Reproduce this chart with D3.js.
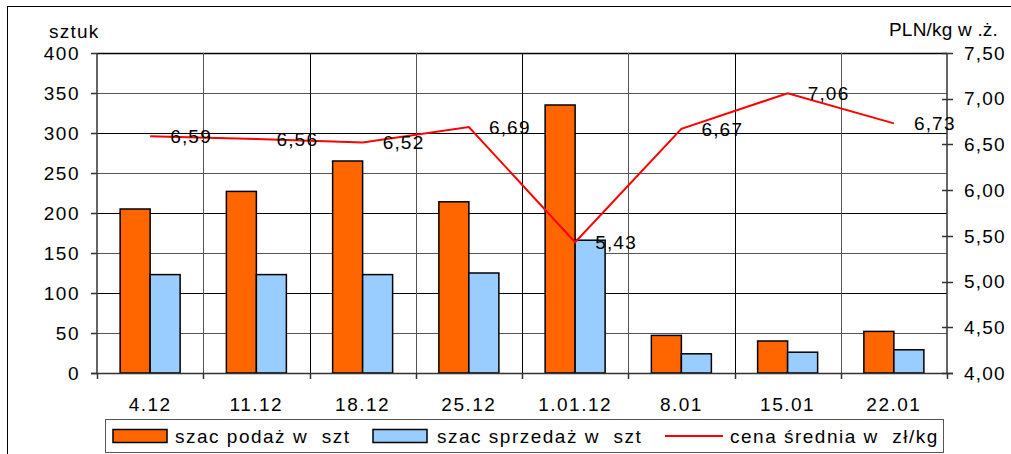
<!DOCTYPE html>
<html>
<head>
<meta charset="utf-8">
<script src="https://cdn.jsdelivr.net/npm/d3@7"></script>
<style>
  body { margin: 0; background: #fff; }
  svg { display: block; font-family: "Liberation Sans", Arial, sans-serif; }
  text { fill: #000; }
</style>
</head>
<body>
<div id="chart"></div>
<script>
const categories = ["4.12", "11.12", "18.12", "25.12", "1.01.12", "8.01", "15.01", "22.01"];
const supply = [205, 227, 265, 214, 335, 47, 40, 52];
const sales = [123, 123, 123, 125, 166, 24, 26, 29];
const price = [6.59, 6.56, 6.52, 6.69, 5.43, 6.67, 7.06, 6.73];
const leftTicks = [0, 50, 100, 150, 200, 250, 300, 350, 400];
const rightTicks = [4.0, 4.5, 5.0, 5.5, 6.0, 6.5, 7.0, 7.5];
const seriesNames = ["szac podaż w  szt", "szac sprzedaż w  szt", "cena średnia w  zł/kg"];

const W = 1011, H = 454;
const plot = { left: 97, top: 53, right: 947, bottom: 373 };
const orange = "#ff6600", blue = "#99ccff", red = "#ff0000";
const fs = 19;
const fmt = (v) => v.toFixed(2).replace(".", ",");

const svg = d3.select("#chart").append("svg").attr("width", W).attr("height", H);

// outer frame
svg.append("rect")
  .attr("x", 7.5).attr("y", 6.5).attr("width", 1020).attr("height", 470)
  .attr("fill", "none").attr("stroke", "#000").attr("stroke-width", 1);

const x = d3.scaleBand().domain(categories).range([plot.left, plot.right]).padding(0);
const yL = d3.scaleLinear().domain([0, 400]).range([plot.bottom, plot.top]);
const yR = d3.scaleLinear().domain([4, 7.5]).range([plot.bottom, plot.top]);

// horizontal grid
svg.append("g")
  .selectAll("line")
  .data(leftTicks.slice(1))
  .join("line")
  .attr("x1", plot.left).attr("x2", plot.right)
  .attr("y1", (d) => Math.round(yL(d)) + 0.5).attr("y2", (d) => Math.round(yL(d)) + 0.5)
  .attr("stroke", (d, i) => (i % 2 ? "#000" : "#555"))
  .attr("stroke-width", (d) => (d === 400 ? 1.5 : 1));

// vertical grid at category boundaries
const bounds = categories.map((c) => x(c)).slice(1);
svg.append("g")
  .selectAll("line")
  .data(bounds)
  .join("line")
  .attr("x1", (d) => Math.round(d) + 0.5).attr("x2", (d) => Math.round(d) + 0.5)
  .attr("y1", plot.top).attr("y2", plot.bottom)
  .attr("stroke", (d, i) => (i % 2 ? "#000" : "#555"));

// bars
const bw = 30;
const cx = (c) => x(c) + x.bandwidth() / 2;

svg.append("g")
  .selectAll("rect")
  .data(categories)
  .join("rect")
  .attr("x", (c) => cx(c) - bw)
  .attr("y", (c, i) => yL(supply[i]))
  .attr("width", bw)
  .attr("height", (c, i) => plot.bottom - yL(supply[i]))
  .attr("fill", orange).attr("stroke", "#000").attr("stroke-width", 1.5);

svg.append("g")
  .selectAll("rect")
  .data(categories)
  .join("rect")
  .attr("x", (c) => cx(c))
  .attr("y", (c, i) => yL(sales[i]))
  .attr("width", bw)
  .attr("height", (c, i) => plot.bottom - yL(sales[i]))
  .attr("fill", blue).attr("stroke", "#000").attr("stroke-width", 1.5);

// axes lines
svg.append("line")
  .attr("x1", plot.left).attr("x2", plot.left).attr("y1", plot.top).attr("y2", plot.bottom)
  .attr("stroke", "#333").attr("stroke-width", 1.5);
svg.append("line")
  .attr("x1", plot.right).attr("x2", plot.right).attr("y1", plot.top).attr("y2", plot.bottom)
  .attr("stroke", "#333").attr("stroke-width", 1.5);
svg.append("line")
  .attr("x1", plot.left - 6).attr("x2", plot.right + 6).attr("y1", plot.bottom + 0.5).attr("y2", plot.bottom + 0.5)
  .attr("stroke", "#333").attr("stroke-width", 1.5);

// left axis ticks + labels
const gl = svg.append("g");
gl.selectAll("line")
  .data(leftTicks)
  .join("line")
  .attr("x1", plot.left - 6).attr("x2", plot.left)
  .attr("y1", (d) => Math.round(yL(d)) + 0.5).attr("y2", (d) => Math.round(yL(d)) + 0.5)
  .attr("stroke", "#333").attr("stroke-width", 1.5);
gl.selectAll("text")
  .data(leftTicks)
  .join("text")
  .attr("x", 80).attr("y", (d) => yL(d))
  .attr("dy", "0.35em")
  .attr("text-anchor", "end")
  .attr("font-size", fs).attr("letter-spacing", 1.5)
  .text((d) => d);

// right axis ticks + labels
const gr = svg.append("g");
gr.selectAll("line")
  .data(rightTicks)
  .join("line")
  .attr("x1", plot.right - 5).attr("x2", plot.right + 6)
  .attr("y1", (d) => Math.round(yR(d)) + 0.5).attr("y2", (d) => Math.round(yR(d)) + 0.5)
  .attr("stroke", "#333").attr("stroke-width", 1.5);
gr.selectAll("text")
  .data(rightTicks)
  .join("text")
  .attr("x", 964).attr("y", (d) => yR(d))
  .attr("dy", "0.35em")
  .attr("font-size", fs).attr("letter-spacing", 1.2)
  .text((d) => fmt(d));

// x ticks at boundaries
svg.append("g")
  .selectAll("line")
  .data([plot.left, ...bounds, plot.right])
  .join("line")
  .attr("x1", (d) => Math.round(d) + 0.5).attr("x2", (d) => Math.round(d) + 0.5)
  .attr("y1", plot.bottom).attr("y2", plot.bottom + 6)
  .attr("stroke", "#333").attr("stroke-width", 1.5);

svg.append("g")
  .selectAll("text")
  .data(categories)
  .join("text")
  .attr("x", (c) => cx(c)).attr("y", 411)
  .attr("text-anchor", "middle")
  .attr("font-size", fs).attr("letter-spacing", 1.5)
  .text((c) => c);

// axis titles
svg.append("text").attr("x", 49).attr("y", 38)
  .attr("font-size", fs).attr("letter-spacing", 1.2).text("sztuk");
svg.append("text").attr("x", 889).attr("y", 36)
  .attr("font-size", fs).attr("letter-spacing", 0.2).text("PLN/kg w .ż.");

// price line
const line = d3.line()
  .x((d, i) => cx(categories[i]))
  .y((d) => yR(d));

svg.append("path")
  .datum(price)
  .attr("fill", "none").attr("stroke", red).attr("stroke-width", 2)
  .attr("d", line);

svg.append("g")
  .selectAll("text")
  .data(price)
  .join("text")
  .attr("x", (d, i) => cx(categories[i]) + 20)
  .attr("y", (d) => yR(d))
  .attr("dy", "0.35em")
  .attr("font-size", fs).attr("letter-spacing", 1.2)
  .text((d) => fmt(d));

// legend
const lg = svg.append("g");
lg.append("rect")
  .attr("x", 105.5).attr("y", 419.5).attr("width", 838).attr("height", 33)
  .attr("fill", "#fff").attr("stroke", "#555").attr("stroke-width", 1);

const legendItems = [
  { x: 113, textX: 175, color: orange, type: "rect" },
  { x: 373, textX: 437, color: blue, type: "rect" },
  { x: 665, textX: 730, color: red, type: "line" },
];
legendItems.forEach((it, i) => {
  if (it.type === "rect") {
    lg.append("rect")
      .attr("x", it.x).attr("y", 429.5).attr("width", 54).attr("height", 13)
      .attr("fill", it.color).attr("stroke", "#000").attr("stroke-width", 1.5);
  } else {
    lg.append("line")
      .attr("x1", it.x).attr("x2", it.x + 58).attr("y1", 436).attr("y2", 436)
      .attr("stroke", it.color).attr("stroke-width", 2);
  }
  lg.append("text")
    .attr("x", it.textX).attr("y", 436)
    .attr("dy", "0.35em")
    .attr("font-size", fs).attr("letter-spacing", 1.5)
    .style("white-space", "pre")
    .text(seriesNames[i]);
});
</script>
</body>
</html>
